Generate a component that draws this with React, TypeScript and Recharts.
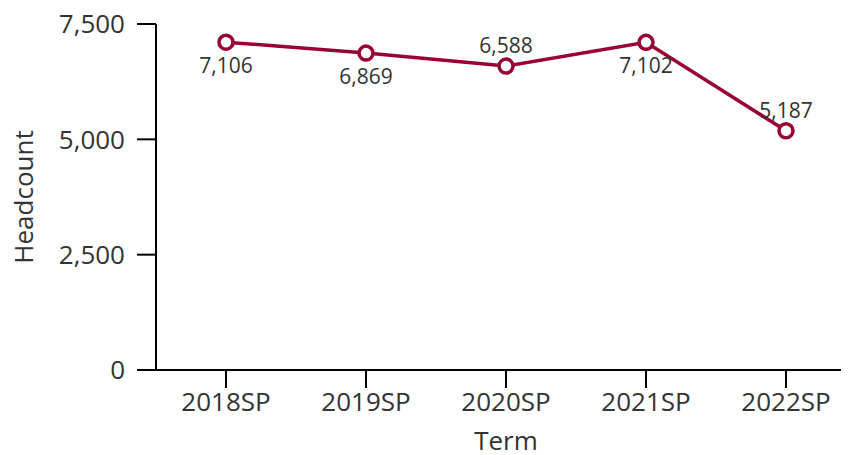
import { LineChart, Line, XAxis, YAxis, LabelList } from "recharts";

const terms = ["2018SP", "2019SP", "2020SP", "2021SP", "2022SP"];
const headcount = [7106, 6869, 6588, 7102, 5187];
const yTicks = [0, 2500, 5000, 7500];

const data = terms.map((term, i) => ({ term, headcount: headcount[i] }));

const LINE_COLOR = "#990033";
const TEXT_COLOR = "#333333";
const FONT = "'Open Sans', 'Noto Sans', sans-serif";

const fmt = (v: number) => v.toLocaleString("en-US");

// put the label above the point when it's a local low, below otherwise
function isLow(i: number) {
  const v = headcount[i];
  const prev = i > 0 ? headcount[i - 1] : Infinity;
  const next = i < headcount.length - 1 ? headcount[i + 1] : Infinity;
  return v < prev && v < next;
}

function PointLabel(props: any) {
  const { x, y, value, index } = props;
  const above = isLow(index);
  return (
    <text
      x={x}
      y={above ? y - 21 : y + 23}
      textAnchor="middle"
      dominantBaseline="central"
      fill={TEXT_COLOR}
      fontSize={21}
      fontFamily={FONT}
    >
      {fmt(value)}
    </text>
  );
}

export default function App() {
  return (
    <LineChart
      width={841}
      height={445}
      data={data}
      margin={{ top: 16, right: -7, left: 0, bottom: 0 }}
      style={{ fontFamily: FONT }}
    >
      <XAxis
        dataKey="term"
        height={83}
        padding={{ left: 70, right: 70 }}
        stroke="#000"
        strokeWidth={2}
        tickSize={18}
        tickMargin={5}
        tick={{ fill: TEXT_COLOR, fontSize: 26 }}
        label={{
          value: "Term",
          position: "center",
          dy: 29,
          fill: TEXT_COLOR,
          fontSize: 26,
        }}
      />
      <YAxis
        width={148}
        domain={[0, 7500]}
        ticks={yTicks}
        tickFormatter={fmt}
        stroke="#000"
        strokeWidth={2}
        tickSize={19}
        tickMargin={12}
        tick={{ fill: TEXT_COLOR, fontSize: 26 }}
        label={{
          value: "Headcount",
          angle: -90,
          position: "center",
          dx: -58,
          fill: TEXT_COLOR,
          fontSize: 26,
        }}
      />
      <Line
        dataKey="headcount"
        stroke={LINE_COLOR}
        strokeWidth={3.5}
        dot={{ r: 7, fill: "#fff", stroke: LINE_COLOR, strokeWidth: 3.5 }}
        isAnimationActive={false}
      >
        <LabelList dataKey="headcount" content={<PointLabel />} />
      </Line>
    </LineChart>
  );
}
